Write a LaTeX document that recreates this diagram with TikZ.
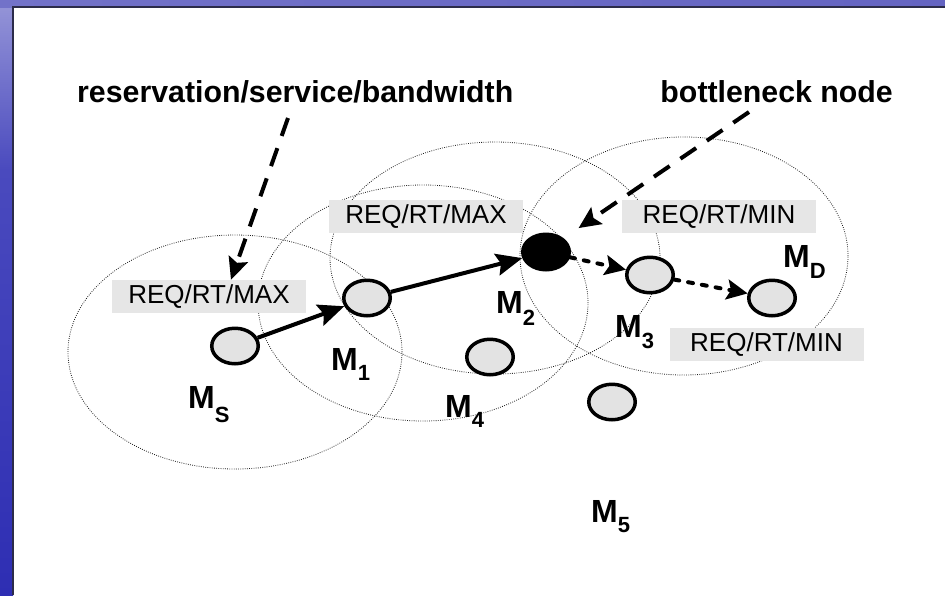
\documentclass[tikz,border=0pt]{standalone}
\usepackage{fontspec}
\setmainfont{Liberation Sans}
\usetikzlibrary{arrows.meta,calc,shapes.geometric}

\definecolor{hostfill}{HTML}{E3E3E3}
\definecolor{tagfill}{HTML}{E6E6E6}
\definecolor{rangeline}{HTML}{1E1E1E}
\definecolor{frametop}{HTML}{7272C9}
\definecolor{frameright}{HTML}{6464C2}
\definecolor{sidetop}{HTML}{9696D8}
\definecolor{sidemid}{HTML}{4A4ABE}
\definecolor{sidebot}{HTML}{2E2EB3}
\definecolor{frameedge}{HTML}{2C2C4A}

% subscript of a host label
\newcommand\hostsub[2]{\lower#1\hbox{\fontsize{22pt}{22pt}\selectfont #2}}

\begin{document}
\begin{tikzpicture}[x=1pt,y=-1pt,
  radiorange/.style={draw=rangeline, line width=0.8pt, dash pattern=on 0.8pt off 1.4pt},
  hostnode/.style={ellipse, draw=black, line width=3.5pt, fill=hostfill,
    minimum width=46.5pt, minimum height=35.5pt, inner sep=0pt},
  msgtag/.style={fill=tagfill, minimum width=194pt, minimum height=33pt, inner sep=0pt,
    font=\fontsize{26pt}{26pt}\selectfont},
  hostlabel/.style={anchor=base west, inner sep=0pt,
    font=\bfseries\fontsize{32pt}{32pt}\selectfont},
  captext/.style={inner sep=0pt, font=\bfseries\fontsize{30.3pt}{30.3pt}\selectfont},
  hoparrow/.style={line width=4pt, -{Stealth[length=26pt,width=22pt,inset=4pt]}},
  dothoparrow/.style={line width=4pt, line cap=round, dash pattern=on 5pt off 9pt,
    -{Stealth[length=21pt,width=20pt,inset=4pt]}},
  pointerarrow/.style={line width=4pt, dash pattern=on 19pt off 13pt,
    -{Stealth[length=22pt,width=20pt,inset=4pt]}}
]
\useasboundingbox (0,0) rectangle (945,595);

% slide frame
\fill[white] (0,0) rectangle (945,595);
\shade[top color=sidetop, bottom color=sidemid] (0,0) rectangle (13,170);
\shade[top color=sidemid, bottom color=sidebot] (0,170) rectangle (13,595);
\shade[left color=frametop, right color=frameright] (0,0) rectangle (945,7);
\draw[frameedge, line width=1.5pt] (13,595) -- (13,7) -- (945,7);

% radio ranges
\draw[radiorange] (235,352) ellipse [x radius=167pt, y radius=117pt];
\draw[radiorange] (423,303) ellipse [x radius=165pt, y radius=118pt];
\draw[radiorange] (495,258) ellipse [x radius=165pt, y radius=116pt];
\draw[radiorange] (684,256) ellipse [x radius=164pt, y radius=119pt];

% message tags
\node[msgtag] (tagS) at (209,296.5) {REQ/RT/MAX};
\node[msgtag] (tagA) at (426,216.5) {REQ/RT/MAX};
\node[msgtag] (tagB) at (719,216.5) {REQ/RT/MIN};
\node[msgtag] (tagC) at (766.5,344.5) {REQ/RT/MIN};

% hosts
\node[hostnode] (Ms) at (235,346) {};
\node[hostnode] (M1) at (367,298) {};
\node[hostnode, fill=black] (M2) at (546,252) {};
\node[hostnode] (M3) at (650,275) {};
\node[hostnode] (MD) at (772,298) {};
\node[hostnode] (M4) at (490,357) {};
\node[hostnode] (M5) at (612,402) {};

% host labels
\node[hostlabel] (lS) at (188,408) {M\hostsub{14pt}{S}};
\node[hostlabel] (l1) at (331,370) {M\hostsub{10pt}{1}};
\node[hostlabel] (l2) at (496,313) {M\hostsub{12pt}{2}};
\node[hostlabel] (l3) at (615,337) {M\hostsub{11pt}{3}};
\node[hostlabel] (lD) at (783,267) {M\hostsub{11pt}{D}};
\node[hostlabel] (l4) at (445,417) {M\hostsub{10pt}{4}};
\node[hostlabel] (l5) at (591,522) {M\hostsub{10pt}{5}};

% route
\draw[hoparrow] (Ms) -- (M1);
\draw[hoparrow] (M1) -- (M2);
\draw[dothoparrow] (M2) -- (M3);
\draw[dothoparrow] (M3) -- (MD);

% captions and pointers
\node[captext, anchor=base west] (capRes) at (77,102) {reservation/service/bandwidth};
\node[captext, anchor=base east] (capNeck) at (893,102) {bottleneck node};
\coordinate (resStart) at (288,118);
\coordinate (neckStart) at (749,112);
\draw[pointerarrow] (resStart) -- ($(tagS.north west)!0.613!(tagS.north east)$);
\draw[pointerarrow, shorten >=18pt] (neckStart) -- (M2.north east);
\end{tikzpicture}
\end{document}
